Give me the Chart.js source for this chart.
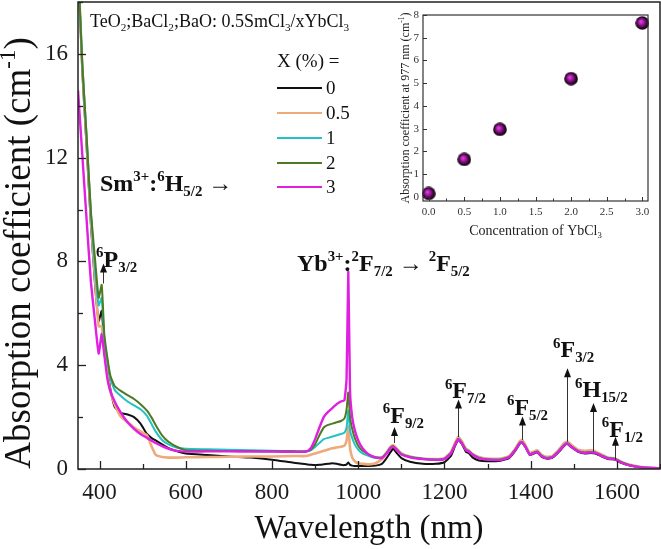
<!DOCTYPE html>
<html><head><meta charset="utf-8">
<script src="https://cdn.jsdelivr.net/npm/chart.js@4.4.0/dist/chart.umd.min.js"></script>
<style>
html,body{margin:0;padding:0;background:#fff;}
#wrap{position:relative;width:661px;height:549px;overflow:hidden;}
#main{position:absolute;left:0;top:0;}
#inset{position:absolute;left:360px;top:0;}
</style></head><body>
<div id="wrap"><canvas id="main" width="661" height="549"></canvas><canvas id="inset" width="300" height="245"></canvas></div>
<script>
// ---------------- data ----------------
const wavelengths = [
  350,360,370,380,390,398,405,411,418,425,435,
  450,465,480,495,510,520,530,545,560,580,600,
  650,700,750,800,850,880,
  890,900,910,920,930,940,950,960,968,973,977,981,986,992,1000,1010,1025,1040,1055,
  1065,1075,1081,1090,1100,1120,1150,1180,1200,1215,1225,1232,1240,1250,1256,1265,1280,1300,
  1330,1350,1365,1375,1380,1388,1398,1408,1415,1425,1437,1450,1465,1478,1485,1495,1510,1525,1540,1550,1565,1580,1596,1610,1630,1660,1700];

const absX0 = [
  19.5,15.3,12.4,9.4,7.0,5.7,6.1,4.8,3.9,3.1,2.4,
  2.15,2.1,2.0,1.75,1.35,1.2,1.1,0.95,0.8,0.68,0.6,
  0.54,0.48,0.44,0.36,0.24,0.18,
  0.16,0.15,0.16,0.18,0.2,0.22,0.2,0.16,0.15,0.18,0.25,0.16,0.13,0.12,0.12,0.12,0.12,0.13,0.2,
  0.4,0.65,0.78,0.6,0.42,0.28,0.2,0.2,0.26,0.5,0.9,1.12,0.98,0.66,0.62,0.45,0.33,0.3,
  0.32,0.42,0.72,0.98,1.02,0.84,0.54,0.6,0.64,0.48,0.4,0.43,0.65,0.9,0.96,0.83,0.66,0.6,0.62,0.6,0.48,0.38,0.36,0.24,0.13,0.05,0.02];

const absX05 = [
  19.5,15.5,12.6,9.6,7.2,5.5,5.5,4.6,3.7,3.0,2.5,
  2.0,1.8,1.6,1.45,1.3,0.9,0.55,0.46,0.44,0.44,0.45,
  0.46,0.47,0.48,0.48,0.5,0.5,
  0.55,0.6,0.65,0.7,0.75,0.8,0.83,0.86,0.9,1.1,1.65,0.8,0.45,0.3,0.22,0.2,0.18,0.22,0.38,
  0.62,0.85,0.92,0.78,0.6,0.48,0.4,0.38,0.42,0.66,1.02,1.24,1.08,0.78,0.72,0.58,0.46,0.4,
  0.4,0.5,0.8,1.08,1.12,0.92,0.62,0.68,0.72,0.56,0.47,0.5,0.74,1.0,1.06,0.92,0.74,0.7,0.72,0.68,0.55,0.44,0.4,0.28,0.16,0.07,0.03];

const absX1 = [
  19.5,15.6,12.8,9.8,7.6,6.3,6.6,5.0,4.2,3.5,3.05,
  2.8,2.6,2.45,2.3,2.05,1.75,1.45,1.12,0.95,0.82,0.78,
  0.76,0.74,0.72,0.7,0.69,0.68,
  0.72,0.85,1.0,1.15,1.2,1.25,1.3,1.35,1.4,1.6,2.25,1.5,1.2,0.95,0.75,0.6,0.5,0.42,0.45,
  0.6,0.82,0.88,0.74,0.58,0.47,0.4,0.37,0.4,0.62,0.97,1.17,1.02,0.74,0.7,0.57,0.44,0.38,
  0.37,0.47,0.77,1.02,1.05,0.87,0.57,0.64,0.68,0.52,0.43,0.47,0.7,0.94,1.0,0.87,0.7,0.64,0.66,0.64,0.52,0.42,0.4,0.27,0.15,0.07,0.03];

const absX2 = [
  19.5,15.6,12.8,9.9,8.0,6.6,7.1,5.2,4.3,3.6,3.2,
  3.0,2.85,2.7,2.5,2.25,2.0,1.7,1.3,1.05,0.85,0.72,
  0.7,0.69,0.69,0.68,0.68,0.68,
  0.75,0.95,1.3,1.6,1.7,1.75,1.8,1.85,1.95,2.3,2.95,2.0,1.55,1.2,0.9,0.7,0.55,0.45,0.45,
  0.6,0.83,0.88,0.74,0.57,0.46,0.39,0.36,0.39,0.61,0.96,1.16,1.01,0.73,0.69,0.56,0.43,0.37,
  0.36,0.46,0.76,1.01,1.04,0.86,0.56,0.63,0.67,0.51,0.42,0.46,0.69,0.93,0.99,0.86,0.69,0.63,0.65,0.63,0.51,0.41,0.39,0.26,0.15,0.06,0.02];

const absX3 = [
  14.6,12.1,9.6,7.2,5.6,4.45,5.2,4.4,3.5,3.0,2.6,
  2.15,1.8,1.55,1.35,1.2,1.1,1.0,0.88,0.78,0.7,0.67,
  0.68,0.68,0.67,0.67,0.66,0.67,
  0.8,1.15,1.6,2.0,2.2,2.35,2.5,2.6,2.65,3.5,7.6,3.0,2.0,1.5,1.1,0.8,0.55,0.45,0.42,
  0.58,0.8,0.86,0.72,0.56,0.45,0.38,0.35,0.38,0.6,0.95,1.15,1.0,0.72,0.68,0.55,0.42,0.36,
  0.35,0.45,0.75,1.0,1.03,0.85,0.55,0.62,0.66,0.5,0.41,0.45,0.68,0.92,0.98,0.85,0.68,0.62,0.64,0.62,0.5,0.4,0.38,0.25,0.14,0.06,0.02];

const seriesLabels = ['0','0.5','1','2','3'];
const seriesValues = [absX0, absX05, absX1, absX2, absX3];
const seriesColors = ['#111111','#EDAA7A','#22C2C6','#4D7A22','#E020E0'];

const xTickValues = [400,600,800,1000,1200,1400,1600];
const xMinorTicks = [500,700,900,1100,1300,1500,1700];
const yTickValues = [0,4,8,12,16];
const yMinorTicks = [2,6,10,14,18];

// inset data
const insetConc = [0,0.5,1,2,3];
const insetAbs = [0.15,1.65,2.97,5.2,7.65];
const insetXTicks = [0,0.5,1,1.5,2,2.5,3];
const insetXMinor = [0.25,0.75,1.25,1.75,2.25,2.75];
const insetYTicks = [0,1,2,3,4,5,6,7,8];

// transition labels: text parts, label position (wavelength, value), arrow x, arrow from/to values
const peakNotes = [
  {parts:[['6','^'],['P',''],['3/2','_']], lx:392, ly:7.8, ax:407, a0:7.15, a1:7.92},
  {parts:[['6','^'],['F',''],['9/2','_']], lx:1057, ly:1.77, ax:1083, a0:1.0, a1:1.62},
  {parts:[['6','^'],['F',''],['7/2','_']], lx:1201, ly:2.73, ax:1232, a0:1.23, a1:2.68},
  {parts:[['6','^'],['F',''],['5/2','_']], lx:1345, ly:2.08, ax:1379, a0:1.12, a1:2.02},
  {parts:[['6','^'],['F',''],['3/2','_']], lx:1452, ly:4.31, ax:1484, a0:1.05, a1:3.88},
  {parts:[['6','^'],['H',''],['15/2','_']], lx:1503, ly:2.77, ax:1545, a0:0.67, a1:2.54},
  {parts:[['6','^'],['F',''],['1/2','_']], lx:1565, ly:1.23, ax:1596, a0:0.35, a1:1.24}
];
const bandNotes = [
  {parts:[['Sm',''],['3+','^'],[':',''],['6','^'],['H',''],['5/2','_'],[' \u2192','']], lx:401, ly:10.73},
  {parts:[['Yb',''],['3+','^'],[':',''],['2','^'],['F',''],['7/2','_'],[' \u2192 ',''],['2','^'],['F',''],['5/2','_']], lx:858, ly:7.65}
];
const headerParts = [['TeO',''],['2','_'],[';BaCl',''],['2','_'],[';BaO: 0.5SmCl',''],['3','_'],['/xYbCl',''],['3','_']];

// ---------------- helpers ----------------
const FAM = '"Liberation Serif", "Times New Roman", serif';
function drawRich(ctx, parts, x, y, size, weight, measureOnly) {
  let cx = x;
  for (const [t,k] of parts) {
    const s = k ? size*0.62 : size;
    ctx.font = `${weight} ${s}px ${FAM}`;
    const dy = k==='^' ? -size*0.4 : (k==='_' ? size*0.22 : 0);
    if (!measureOnly) ctx.fillText(t, cx, y+dy);
    cx += ctx.measureText(t).width;
  }
  return cx - x;
}
function arrowUp(ctx, x, yBase, yTip) {
  ctx.save();
  ctx.strokeStyle = '#333'; ctx.fillStyle = '#111'; ctx.lineWidth = 1;
  ctx.beginPath(); ctx.moveTo(x, yBase); ctx.lineTo(x, yTip+8); ctx.stroke();
  ctx.beginPath(); ctx.moveTo(x, yTip); ctx.lineTo(x-3.5, yTip+9); ctx.lineTo(x+3.5, yTip+9); ctx.closePath(); ctx.fill();
  ctx.restore();
}
function noPad(s){ s.paddingTop = 0; s.paddingBottom = 0; s.paddingLeft = 0; s.paddingRight = 0; }

// ---------------- main chart ----------------
const mainDeco = {
  id:'mainDeco',
  afterDraw(chart) {
    const ctx = chart.ctx, a = chart.chartArea, xs = chart.scales.x, ys = chart.scales.y;
    ctx.save();
    ctx.strokeStyle = '#222'; ctx.lineWidth = 1.3;
    const tk = (v, len, axis) => {
      ctx.beginPath();
      if (axis==='x') { const p = Math.round(xs.getPixelForValue(v))+0.5; ctx.moveTo(p, a.bottom); ctx.lineTo(p, a.bottom-len); }
      else { const p = Math.round(ys.getPixelForValue(v))+0.5; ctx.moveTo(a.left, p); ctx.lineTo(a.left+len, p); }
      ctx.stroke();
    };
    xTickValues.forEach(v=>tk(v,8,'x')); xMinorTicks.forEach(v=>tk(v,5,'x'));
    yTickValues.forEach(v=>tk(v,8,'y')); yMinorTicks.forEach(v=>tk(v,5,'y'));
    ctx.lineWidth = 1.5; ctx.strokeStyle = '#222';
    ctx.strokeRect(a.left, a.top, a.right-a.left, a.bottom-a.top);

    ctx.fillStyle = '#111'; ctx.textBaseline = 'alphabetic'; ctx.textAlign = 'left';
    drawRich(ctx, headerParts, 90, 27, 18, 'normal');
    // legend
    ctx.font = `normal 19px ${FAM}`; ctx.textBaseline = 'middle';
    ctx.fillText('X (%) =', 277, 62);
    const rows = [88,113,138,163,187];
    seriesLabels.forEach((lab,i)=>{
      ctx.strokeStyle = seriesColors[i]; ctx.lineWidth = 2.2;
      ctx.beginPath(); ctx.moveTo(277, rows[i]); ctx.lineTo(322, rows[i]); ctx.stroke();
      ctx.fillStyle = '#111'; ctx.font = `normal 19px ${FAM}`;
      ctx.fillText(lab, 326, rows[i]+1);
    });
    ctx.textBaseline = 'alphabetic';
    bandNotes.forEach(n=>{
      drawRich(ctx, n.parts, xs.getPixelForValue(n.lx), ys.getPixelForValue(n.ly), 24, 'bold');
    });
    peakNotes.forEach(n=>{
      drawRich(ctx, n.parts, xs.getPixelForValue(n.lx), ys.getPixelForValue(n.ly), 24, 'bold');
      arrowUp(ctx, Math.round(xs.getPixelForValue(n.ax))+0.5, ys.getPixelForValue(n.a0), ys.getPixelForValue(n.a1));
    });
    // axis titles
    ctx.fillStyle = '#111';
    const xt = [['Wavelength (nm)','']];
    const wx = drawRich(ctx, xt, 0, 0, 33, 'normal', true);
    drawRich(ctx, xt, (a.left+a.right)/2 - wx/2, 538, 33, 'normal');
    const yt = [['Absorption coefficient (cm',''],['-1','^'],[')','']];
    const wy = drawRich(ctx, yt, 0, 0, 37, 'normal', true);
    ctx.save(); ctx.translate(30, 253); ctx.rotate(-Math.PI/2);
    drawRich(ctx, yt, -wy/2, 0, 37, 'normal');
    ctx.restore();
    ctx.restore();
  }
};

new Chart(document.getElementById('main'), {
  type:'line',
  data:{ datasets: seriesValues.map((vals,i)=>({
    label: seriesLabels[i],
    data: wavelengths.map((w,j)=>({x:w, y:vals[j]})),
    borderColor: seriesColors[i], backgroundColor: seriesColors[i],
    borderWidth: i===4 ? 2.4 : (i===1 ? 2.6 : 2), pointRadius:0, tension:0.15, fill:false,
    order: 5-i
  }))},
  options:{
    responsive:false, animation:false, devicePixelRatio:1,
    layout:{padding:{left:0,right:1,top:2,bottom:0}},
    plugins:{legend:{display:false}, tooltip:{enabled:false}},
    scales:{
      x:{type:'linear', min:350, max:1700,
        afterBuildTicks:s=>{s.ticks = xTickValues.map(v=>({value:v}));},
        afterFit:s=>{s.height=80; noPad(s);},
        grid:{display:false, drawTicks:false, tickLength:0}, border:{display:false},
        ticks:{font:{family:FAM, size:23}, color:'#1a1a1a', padding:10, maxRotation:0, autoSkip:false, callback:v=>String(v)}},
      y:{type:'linear', min:0, max:18,
        afterBuildTicks:s=>{s.ticks = yTickValues.map(v=>({value:v}));},
        afterFit:s=>{s.width=78; noPad(s);},
        grid:{display:false, drawTicks:false, tickLength:0}, border:{display:false},
        ticks:{font:{family:FAM, size:23}, color:'#1a1a1a', padding:10, autoSkip:false, callback:v=>String(v)}}
    }
  },
  plugins:[mainDeco]
});

// ---------------- inset chart ----------------
const sphere = document.createElement('canvas');
sphere.width = 14; sphere.height = 14;
(function(){
  const c = sphere.getContext('2d');
  const g = c.createRadialGradient(5.5,5.5,0.5,7,7,7);
  g.addColorStop(0,'#e040e0'); g.addColorStop(0.35,'#a018a0'); g.addColorStop(0.7,'#3a0838'); g.addColorStop(1,'#050005');
  c.fillStyle = g; c.beginPath(); c.arc(7,7,6.8,0,Math.PI*2); c.fill();
})();

const insetDeco = {
  id:'insetDeco',
  afterDraw(chart) {
    const ctx = chart.ctx, a = chart.chartArea, xs = chart.scales.x, ys = chart.scales.y;
    ctx.save();
    ctx.strokeStyle = '#333'; ctx.lineWidth = 1;
    insetXTicks.forEach(v=>{const p=Math.round(xs.getPixelForValue(v))+0.5; ctx.beginPath(); ctx.moveTo(p,a.bottom); ctx.lineTo(p,a.bottom-4); ctx.stroke();});
    insetXMinor.forEach(v=>{const p=Math.round(xs.getPixelForValue(v))+0.5; ctx.beginPath(); ctx.moveTo(p,a.bottom); ctx.lineTo(p,a.bottom-2.5); ctx.stroke();});
    insetYTicks.forEach(v=>{const p=Math.round(ys.getPixelForValue(v))+0.5; ctx.beginPath(); ctx.moveTo(a.left,p); ctx.lineTo(a.left+4,p); ctx.stroke();});
    ctx.lineWidth = 1.2;
    ctx.strokeRect(a.left, a.top, a.right-a.left, a.bottom-a.top);
    ctx.fillStyle = '#222'; ctx.textBaseline = 'alphabetic';
    const xt = [['Concentration of YbCl',''],['3','_']];
    const wx = drawRich(ctx, xt, 0,0,14,'normal',true);
    drawRich(ctx, xt, (a.left+a.right)/2 - wx/2, 235, 14, 'normal');
    const yt = [['Absorption coefficient at 977 nm (cm',''],['-1','^'],[')','']];
    const wy = drawRich(ctx, yt, 0,0,12,'normal',true);
    ctx.save(); ctx.translate(49, (a.top+a.bottom)/2); ctx.rotate(-Math.PI/2);
    drawRich(ctx, yt, -wy/2, 0, 12, 'normal');
    ctx.restore();
    ctx.restore();
  }
};

new Chart(document.getElementById('inset'), {
  type:'scatter',
  data:{datasets:[{data: insetConc.map((c,i)=>({x:c, y:insetAbs[i]})), pointStyle: sphere, pointRadius:6, clip:false}]},
  options:{
    responsive:false, animation:false, devicePixelRatio:1,
    layout:{padding:{left:0,right:12,top:15,bottom:0}},
    plugins:{legend:{display:false}, tooltip:{enabled:false}},
    scales:{
      x:{type:'linear', min:-0.08, max:3.08,
        afterBuildTicks:s=>{s.ticks = insetXTicks.map(v=>({value:v}));},
        afterFit:s=>{s.height=44; noPad(s);},
        grid:{display:false, drawTicks:false, tickLength:0}, border:{display:false},
        ticks:{font:{family:FAM,size:11}, color:'#333', padding:5, maxRotation:0, autoSkip:false, callback:v=>v.toFixed(1)}},
      y:{type:'linear', min:-0.18, max:8,
        afterBuildTicks:s=>{s.ticks = insetYTicks.map(v=>({value:v}));},
        afterFit:s=>{s.width=63; noPad(s);},
        grid:{display:false, drawTicks:false, tickLength:0}, border:{display:false},
        ticks:{font:{family:FAM,size:11}, color:'#333', padding:4, autoSkip:false, callback:v=>String(v)}}
    }
  },
  plugins:[insetDeco]
});
</script>
</body></html>
